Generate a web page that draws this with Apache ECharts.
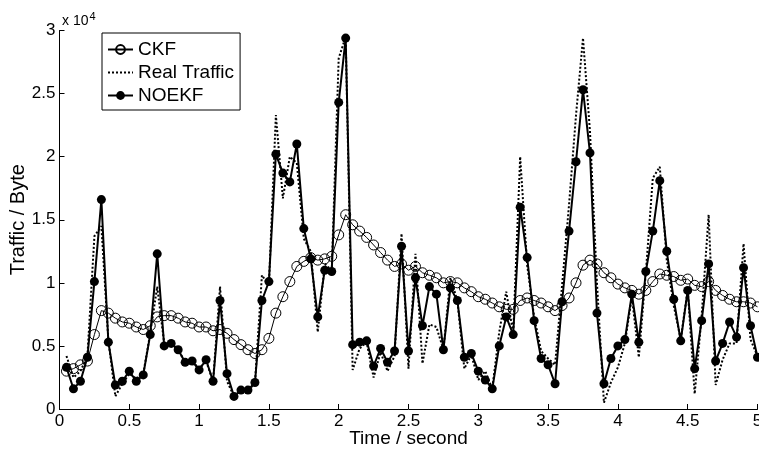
<!DOCTYPE html>
<html>
<head>
<meta charset="utf-8">
<script src="https://cdn.jsdelivr.net/npm/echarts@6/dist/echarts.min.js"></script>
<style>
  html, body { margin: 0; padding: 0; background: #ffffff; }
  #chart { width: 759px; height: 451px; }
</style>
</head>
<body>
<div id="chart"></div>
<script>
// Sample instants (seconds)
const timeSec = [
  0.05, 0.10, 0.15, 0.20, 0.25, 0.30, 0.35, 0.40, 0.45, 0.50,
  0.55, 0.60, 0.65, 0.70, 0.75, 0.80, 0.85, 0.90, 0.95, 1.00,
  1.05, 1.10, 1.15, 1.20, 1.25, 1.30, 1.35, 1.40, 1.45, 1.50,
  1.55, 1.60, 1.65, 1.70, 1.75, 1.80, 1.85, 1.90, 1.95, 2.00,
  2.05, 2.10, 2.15, 2.20, 2.25, 2.30, 2.35, 2.40, 2.45, 2.50,
  2.55, 2.60, 2.65, 2.70, 2.75, 2.80, 2.85, 2.90, 2.95, 3.00,
  3.05, 3.10, 3.15, 3.20, 3.25, 3.30, 3.35, 3.40, 3.45, 3.50,
  3.55, 3.60, 3.65, 3.70, 3.75, 3.80, 3.85, 3.90, 3.95, 4.00,
  4.05, 4.10, 4.15, 4.20, 4.25, 4.30, 4.35, 4.40, 4.45, 4.50,
  4.55, 4.60, 4.65, 4.70, 4.75, 4.80, 4.85, 4.90, 4.95, 5.00
];

// Traffic values in units of 10^4 bytes
const ckf = [
  0.30, 0.32, 0.35, 0.38, 0.59, 0.78, 0.76, 0.72, 0.69, 0.68,
  0.65, 0.63, 0.66, 0.73, 0.74, 0.74, 0.72, 0.69, 0.68, 0.65,
  0.65, 0.62, 0.63, 0.60, 0.55, 0.51, 0.47, 0.44, 0.47, 0.56,
  0.76, 0.89, 1.01, 1.13, 1.17, 1.20, 1.18, 1.19, 1.21, 1.38,
  1.54, 1.46, 1.41, 1.36, 1.30, 1.24, 1.18, 1.13, 1.15, 1.10,
  1.13, 1.08, 1.06, 1.04, 1.00, 1.01, 1.00, 0.96, 0.93, 0.89,
  0.87, 0.84, 0.81, 0.79, 0.79, 0.86, 0.88, 0.86, 0.84, 0.81,
  0.78, 0.82, 0.88, 1.00, 1.14, 1.18, 1.15, 1.08, 1.04, 0.99,
  0.96, 0.94, 0.91, 0.94, 1.01, 1.07, 1.06, 1.05, 1.02, 1.03,
  0.98, 0.97, 1.01, 0.94, 0.90, 0.87, 0.85, 0.85, 0.84, 0.81
];

const realTraffic = [
  0.42, 0.25, 0.30, 0.42, 1.37, 1.45, 0.55, 0.10, 0.20, 0.28,
  0.24, 0.28, 0.60, 0.97, 0.52, 0.52, 0.47, 0.37, 0.38, 0.32,
  0.38, 0.22, 0.97, 0.22, 0.10, 0.15, 0.15, 0.20, 1.06, 0.98,
  2.33, 1.67, 2.00, 1.95, 1.35, 1.25, 0.61, 1.15, 1.10, 2.78,
  2.95, 0.31, 0.48, 0.53, 0.25, 0.45, 0.30, 0.42, 1.39, 0.32,
  1.23, 0.36, 0.67, 0.65, 0.47, 1.04, 0.86, 0.32, 0.43, 0.23,
  0.30, 0.16, 0.61, 0.93, 0.60, 2.00, 1.14, 0.73, 0.46, 0.40,
  0.35, 0.98, 1.62, 2.33, 2.94, 2.20, 1.00, 0.05, 0.21, 0.33,
  0.52, 0.89, 0.41, 1.08, 1.83, 1.92, 1.18, 0.82, 0.55, 0.95,
  0.12, 0.74, 1.54, 0.19, 0.39, 0.52, 0.52, 1.31, 0.55, 0.42
];

const noekf = [
  0.33, 0.16, 0.22, 0.41, 1.01, 1.66, 0.53, 0.19, 0.22, 0.30,
  0.22, 0.27, 0.59, 1.23, 0.50, 0.52, 0.47, 0.37, 0.38, 0.31,
  0.39, 0.22, 0.86, 0.28, 0.10, 0.15, 0.15, 0.21, 0.86, 1.01,
  2.02, 1.87, 1.80, 2.10, 1.43, 1.19, 0.73, 1.10, 1.09, 2.43,
  2.94, 0.51, 0.53, 0.54, 0.34, 0.48, 0.37, 0.46, 1.29, 0.46,
  1.04, 0.66, 0.97, 0.91, 0.47, 0.96, 0.86, 0.41, 0.44, 0.30,
  0.23, 0.16, 0.50, 0.73, 0.59, 1.60, 1.20, 0.70, 0.40, 0.35,
  0.20, 0.85, 1.41, 1.96, 2.53, 2.03, 0.76, 0.20, 0.40, 0.50,
  0.55, 0.91, 0.53, 1.09, 1.41, 1.81, 1.25, 0.87, 0.54, 0.94,
  0.32, 0.70, 1.15, 0.38, 0.52, 0.69, 0.57, 1.12, 0.66, 0.41
];

const seriesNames = ['CKF', 'Real Traffic', 'NOEKF'];

const FONT = '"Liberation Sans", Arial, Helvetica, sans-serif';
const pairs = (vals) => timeSec.map((t, i) => [t, vals[i]]);

const chart = echarts.init(document.getElementById('chart'), null, { renderer: 'canvas' });

chart.setOption({
  animation: false,
  backgroundColor: '#ffffff',
  grid: {
    left: 59.5, right: 1.5, top: 30.5, bottom: 42,
    containLabel: false,
    outerBoundsMode: 'none'
  },
  xAxis: {
    type: 'value',
    min: 0, max: 5, interval: 0.5,
    name: 'Time / second',
    nameLocation: 'middle',
    nameGap: 20,
    nameMoveOverlap: false,
    nameTextStyle: { color: '#000', fontFamily: FONT, fontSize: 19 },
    axisLine: { show: true, lineStyle: { color: '#000', width: 1 } },
    axisTick: { show: true, inside: true, length: 5, lineStyle: { color: '#000' } },
    axisLabel: { color: '#000', fontFamily: FONT, fontSize: 17, margin: 4, hideOverlap: false },
    splitLine: { show: false }
  },
  yAxis: {
    type: 'value',
    min: 0, max: 3, interval: 0.5,
    name: 'Traffic / Byte',
    nameLocation: 'middle',
    nameGap: 31,
    nameMoveOverlap: false,
    nameTextStyle: { color: '#000', fontFamily: FONT, fontSize: 20 },
    axisLine: { show: true, lineStyle: { color: '#000', width: 1 } },
    axisTick: { show: true, inside: true, length: 5, lineStyle: { color: '#000' } },
    axisLabel: { color: '#000', fontFamily: FONT, fontSize: 17, margin: 4 },
    splitLine: { show: false }
  },
  legend: {
    data: seriesNames,
    orient: 'vertical',
    left: 102, top: 33,
    backgroundColor: '#ffffff',
    borderColor: '#000', borderWidth: 1, borderRadius: 0,
    padding: [7, 6, 5, 5],
    itemWidth: 25, itemHeight: 11, itemGap: 4,
    textStyle: { color: '#000', fontFamily: FONT, fontSize: 19, lineHeight: 18 }
  },
  graphic: [{
    type: 'text',
    left: 62, top: 11,
    style: {
      text: '{b|x 10}{s|4}',
      rich: {
        b: { fontFamily: FONT, fontSize: 14, fill: '#000', verticalAlign: 'bottom', lineHeight: 17 },
        s: { fontFamily: FONT, fontSize: 11, fill: '#000', verticalAlign: 'top', lineHeight: 17, padding: [0, 0, 8, 1] }
      }
    }
  }],
  series: [
    {
      name: 'CKF', type: 'line', data: pairs(ckf),
      symbol: 'circle', symbolSize: 10, showAllSymbol: true,
      itemStyle: { color: 'rgba(255,255,255,0)', borderColor: '#000', borderWidth: 1 },
      lineStyle: { color: '#000', width: 1 },
      z: 2
    },
    {
      name: 'Real Traffic', type: 'line', data: pairs(realTraffic),
      symbol: 'none',
      itemStyle: { color: 'rgba(0,0,0,0)', borderWidth: 0 },
      lineStyle: { color: '#000', width: 2, type: [2, 2] },
      z: 3
    },
    {
      name: 'NOEKF', type: 'line', data: pairs(noekf),
      symbol: 'circle', symbolSize: 9, showAllSymbol: true,
      itemStyle: { color: '#000' },
      lineStyle: { color: '#000', width: 2 },
      z: 4
    }
  ]
});
</script>
</body>
</html>
